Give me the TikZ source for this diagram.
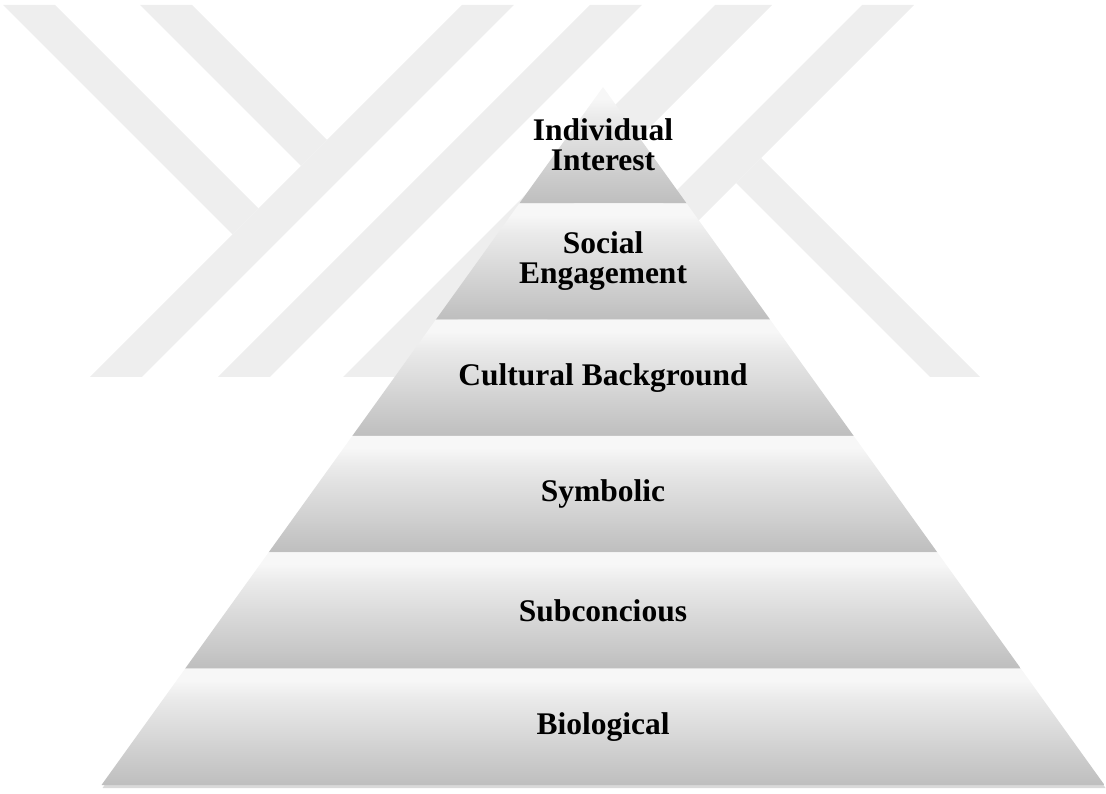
\documentclass[tikz,border=0pt]{standalone}
\usepackage{fontspec}
\setmainfont{Liberation Serif}
\usetikzlibrary{shadows}

\definecolor{logogray}{RGB}{238,238,238}
\definecolor{layertop}{RGB}{247,247,247}
\definecolor{layermid}{RGB}{234,234,234}
\definecolor{layerbot}{RGB}{190,190,190}

% light band on top of each layer, darker towards its base
\pgfdeclareverticalshading{layershade}{100bp}{color(0bp)=(layerbot); color(25bp)=(layerbot); color(62bp)=(layermid); color(70bp)=(layertop); color(100bp)=(layertop)}

\tikzset{
  logoband/.style = {fill=logogray, draw=none},
  layer/.style = {shading=layershade, draw=none},
  layertext/.style = {font=\fontsize{31.5}{30}\selectfont\bfseries, align=center, text=black}
}

\begin{document}
\begin{tikzpicture}[x=1pt, y=1pt, node distance = 116.33pt]
  \useasboundingbox (0,0) rectangle (1106,793);

  % logo in the background
  \fill[logoband] (3,788) -- (55,788) -- (258.5,584.5) -- (232.5,558.5) -- cycle;
  \fill[logoband] (140,788) -- (192,788) -- (327,653) -- (301,627) -- cycle;
  \fill[logoband] (462,788) -- (514,788) -- (142,416) -- (90,416) -- cycle;
  \fill[logoband] (590,788) -- (642,788) -- (270,416) -- (218,416) -- cycle;
  \fill[logoband] (715,788) -- (772,788) -- (400,416) -- (343,416) -- cycle;
  \fill[logoband] (862,788) -- (914,788) -- (542,416) -- (490,416) -- cycle;
  \fill[logoband] (761,635) -- (980,416) -- (930,416) -- (736,610) -- cycle;

  % pyramid, top to bottom
  \shade[layer] (603,706) -- (686.58,589.67) -- (519.42,589.67) -- cycle;
  \shade[layer] (519.42,589.67) -- (686.58,589.67) -- (770.17,473.33) -- (435.83,473.33) -- cycle;
  \shade[layer] (435.83,473.33) -- (770.17,473.33) -- (853.75,357) -- (352.25,357) -- cycle;
  \shade[layer] (352.25,357) -- (853.75,357) -- (937.33,240.67) -- (268.67,240.67) -- cycle;
  \shade[layer] (268.67,240.67) -- (937.33,240.67) -- (1020.92,124.33) -- (185.08,124.33) -- cycle;
  \shade[layer, drop shadow={shadow xshift=1pt, shadow yshift=-3pt, opacity=.3}]
    (185.08,124.33) -- (1020.92,124.33) -- (1104.5,8) -- (101.5,8) -- cycle;

  \node[layertext] at (603,647.8) (ind) {Individual\\Interest};
  \node[layertext, below of = ind] (soc) {Social\\Engagement};
  \node[layertext, below of = soc] (cult) {Cultural Background};
  \node[layertext, below of = cult] (sym) {Symbolic};
  \node[layertext, below of = sym] (sub) {Subconcious};
  \node[layertext, below of = sub] (bio) {Biological};

\end{tikzpicture}
\end{document}
